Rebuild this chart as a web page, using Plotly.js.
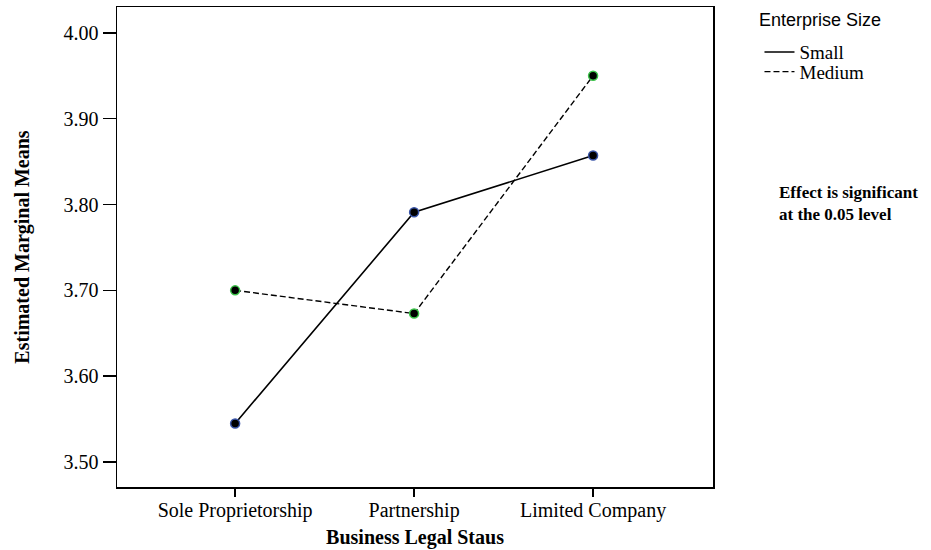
<!DOCTYPE html>
<html>
<head>
<meta charset="utf-8">
<script src="https://cdn.plot.ly/plotly-3.0.1.min.js"></script>
<style>html,body{margin:0;padding:0;background:#fff;}#chart{width:931px;height:550px;}</style>
</head>
<body>
<div id="chart"></div>
<script>
const categories = ["Sole Proprietorship", "Partnership", "Limited Company"];
const smallMeans = [3.545, 3.791, 3.857];
const mediumMeans = [3.700, 3.673, 3.950];
const yTickVals = [3.50, 3.60, 3.70, 3.80, 3.90, 4.00];
const yTickText = ["3.50", "3.60", "3.70", "3.80", "3.90", "4.00"];
const seriesNames = ["Small", "Medium"];
const legendTitle = "Enterprise Size";

const serif = "Liberation Serif, Times New Roman, serif";
const sans = "Liberation Sans, Arial, sans-serif";

const traces = [
  {x: categories, y: smallMeans, name: seriesNames[0], type: "scatter", mode: "lines", legend: "legend",
   line: {color: "#000", width: 1.6}, hoverinfo: "skip"},
  {x: categories, y: mediumMeans, name: seriesNames[1], type: "scatter", mode: "lines", legend: "legend2",
   line: {color: "#000", width: 1.4, dash: "6px,3px"}, hoverinfo: "skip"},
  {x: categories, y: smallMeans, name: seriesNames[0], type: "scatter", mode: "markers", showlegend: false,
   marker: {color: "#000", size: 9, line: {color: "#3a55a8", width: 1.5}}},
  {x: categories, y: mediumMeans, name: seriesNames[1], type: "scatter", mode: "markers", showlegend: false,
   marker: {color: "#000", size: 9, line: {color: "#3cc44a", width: 1.5}}}
];

const legendFont = {family: serif, size: 19, color: "#000"};

const layout = {
  width: 931, height: 550,
  margin: {l: 117, r: 218, t: 7, b: 63, autoexpand: false},
  paper_bgcolor: "#fff", plot_bgcolor: "#fff",
  showlegend: true,
  xaxis: {
    type: "category", range: [-0.66, 2.67],
    showline: true, mirror: true, linecolor: "#000", linewidth: 1.5,
    ticks: "outside", ticklen: 8, tickwidth: 1.5, tickcolor: "#000",
    ticklabelstandoff: -4,
    showgrid: false, zeroline: false,
    tickfont: {family: serif, size: 20, color: "#000"},
    title: {text: "Business Legal Staus", font: {family: serif, size: 20, color: "#000", weight: "bold"}, standoff: 9}
  },
  yaxis: {
    range: [3.471, 4.030],
    tickvals: yTickVals, ticktext: yTickText,
    showline: true, mirror: true, linecolor: "#000", linewidth: 1.5,
    ticks: "outside", ticklen: 13, tickwidth: 1.5, tickcolor: "#000",
    showgrid: false, zeroline: false,
    tickfont: {family: serif, size: 20, color: "#000"},
    title: {text: "Estimated Marginal Means", font: {family: serif, size: 20, color: "#000", weight: "bold"}, standoff: 28}
  },
  legend: {
    x: 1.078, xanchor: "left", y: 0.906, yanchor: "middle",
    bgcolor: "rgba(0,0,0,0)", font: legendFont, itemwidth: 30
  },
  legend2: {
    x: 1.078, xanchor: "left", y: 0.865, yanchor: "middle",
    bgcolor: "rgba(0,0,0,0)", font: legendFont, itemwidth: 30
  },
  annotations: [
    {
      xref: "paper", yref: "paper", x: 1.074, y: 0.973, xanchor: "left", yanchor: "middle",
      showarrow: false, text: legendTitle,
      font: {family: sans, size: 18, color: "#000"}
    },
    {
      xref: "paper", yref: "paper", x: 1.108, y: 0.59, xanchor: "left", yanchor: "middle",
      align: "left", showarrow: false,
      text: "Effect is significant<br>at the 0.05 level",
      font: {family: serif, size: 17, color: "#000", weight: "bold"}
    }
  ]
};

Plotly.newPlot("chart", traces, layout, {staticPlot: true, displayModeBar: false});
</script>
</body>
</html>
